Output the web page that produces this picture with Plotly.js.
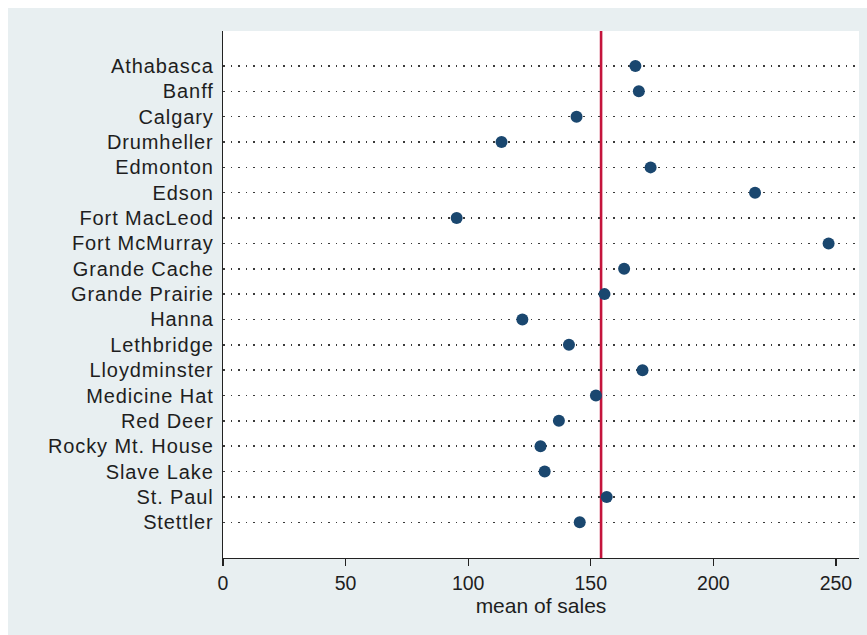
<!DOCTYPE html>
<html>
<head>
<meta charset="utf-8">
<script src="https://cdn.plot.ly/plotly-3.0.1.min.js"></script>
<style>
  html, body { margin: 0; padding: 0; background: #ffffff; }
  #chart { position: absolute; left: 8px; top: 8px; width: 859px; height: 627px; }
  #chart .ytick text { letter-spacing: 0.9px; }
</style>
</head>
<body>
<div id="chart"></div>
<script>
// Categories (top to bottom as shown)
const cities = [
  "Athabasca", "Banff", "Calgary", "Drumheller", "Edmonton", "Edson",
  "Fort MacLeod", "Fort McMurray", "Grande Cache", "Grande Prairie", "Hanna",
  "Lethbridge", "Lloydminster", "Medicine Hat", "Red Deer", "Rocky Mt. House",
  "Slave Lake", "St. Paul", "Stettler"
];
// Mean of sales per city
const meanSales = [
  168.2, 169.6, 144.2, 113.6, 174.4, 217.0,
  95.3, 247.0, 163.6, 155.6, 122.1,
  141.1, 171.1, 152.1, 137.0, 129.5,
  131.2, 156.5, 145.5
];
// Overall mean (reference line)
const overallMean = [154.2];
// X axis ticks
const xTicks = [0, 50, 100, 150, 200, 250];

const trace = {
  type: "scatter",
  mode: "markers",
  x: meanSales,
  y: cities,
  marker: { color: "#1a476f", size: 12, line: { width: 0 } },
  hoverinfo: "x+y",
  cliponaxis: false
};

const layout = {
  width: 859,
  height: 627,
  margin: { l: 215, r: 8, t: 23, b: 77, pad: 0 },
  paper_bgcolor: "#e8eff1",
  plot_bgcolor: "#ffffff",
  showlegend: false,
  font: { family: "Liberation Sans, Arial, sans-serif", size: 19, color: "#1e1e1e" },
  xaxis: {
    range: [0, 259.4],
    tickvals: xTicks,
    ticktext: xTicks.map(String),
    ticks: "outside",
    ticklen: 7,
    tickwidth: 1.3,
    tickcolor: "#222",
    showline: true,
    linecolor: "#222",
    linewidth: 1.3,
    showgrid: false,
    zeroline: false,
    tickfont: { size: 19.5 },
    title: { text: "mean of sales", font: { size: 21 }, standoff: 4 }
  },
  yaxis: {
    type: "category",
    categoryorder: "array",
    categoryarray: cities.slice().reverse(),
    range: [-1.41, 19.38],
    ticks: "",
    showline: true,
    linecolor: "#222",
    linewidth: 1.3,
    showgrid: true,
    gridcolor: "#3a3a3a",
    gridwidth: 1.5,
    griddash: "1.5px,6px",
    zeroline: false,
    ticklabelstandoff: 4,
    tickfont: { size: 20 }
  },
  shapes: [{
    type: "line",
    xref: "x", yref: "paper",
    x0: overallMean[0], x1: overallMean[0],
    y0: 0, y1: 1,
    line: { color: "#c4143c", width: 2.6 },
    layer: "between"
  }]
};

Plotly.newPlot("chart", [trace], layout, { displayModeBar: false, staticPlot: true });
</script>
</body>
</html>
